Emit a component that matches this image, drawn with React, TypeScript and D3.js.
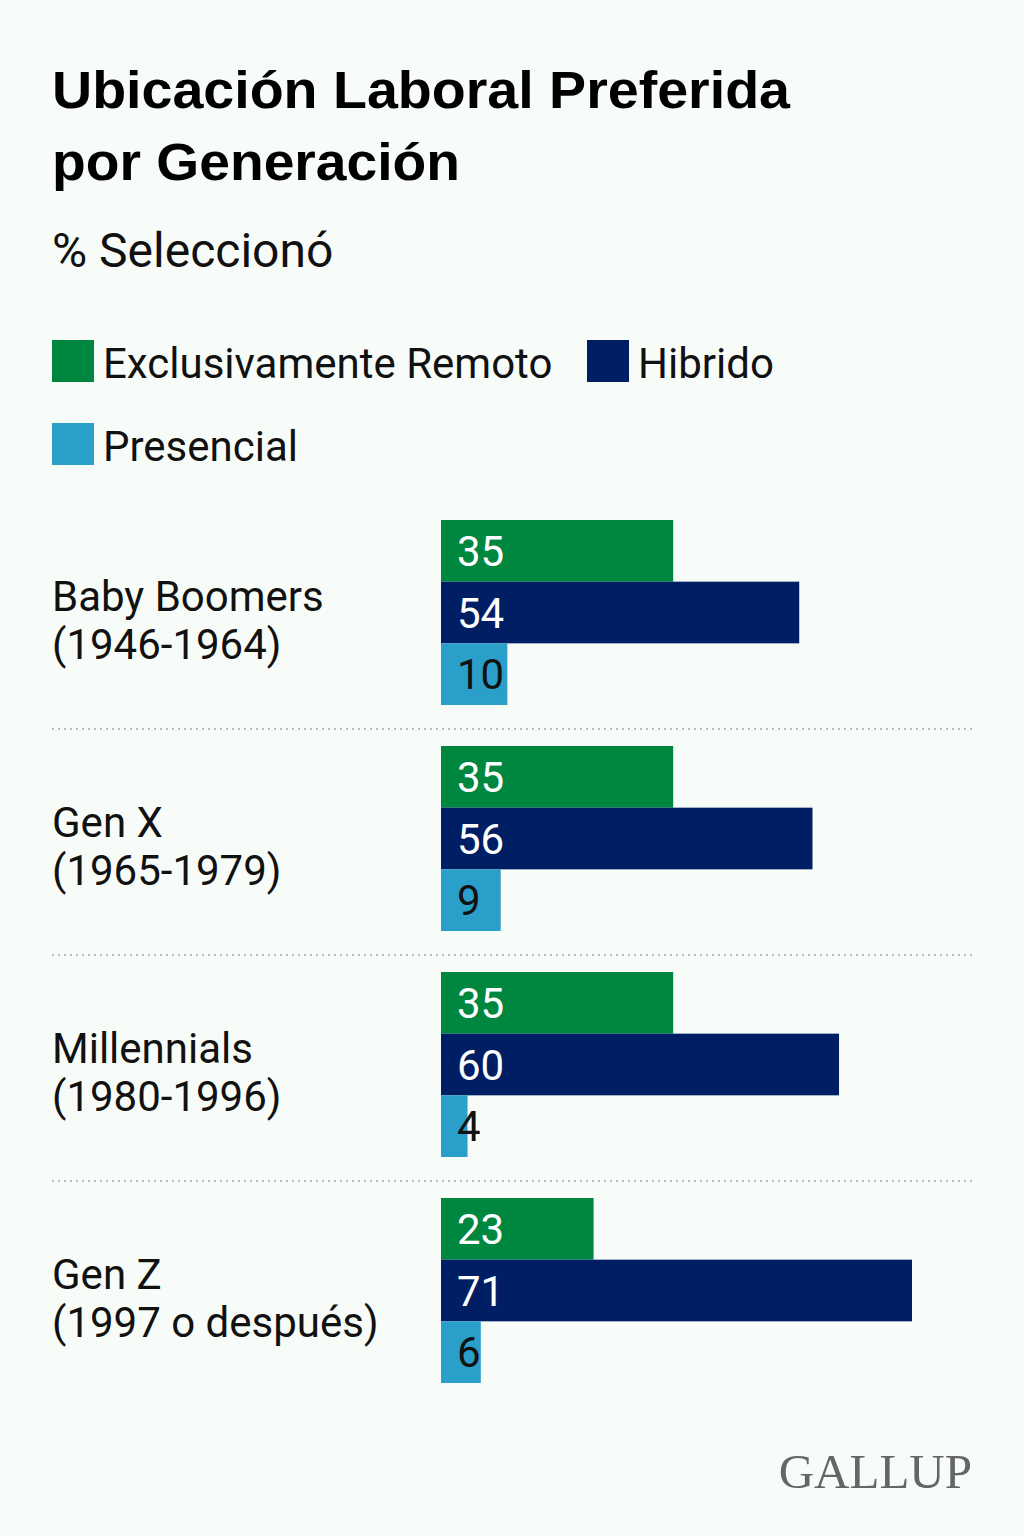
import React from "react";
import * as d3 from "d3";

// Generations and their birth-year ranges
const generations = ["Baby Boomers", "Gen X", "Millennials", "Gen Z"];
const birthYears = ["(1946-1964)", "(1965-1979)", "(1980-1996)", "(1997 o después)"];

// Series: share (%) choosing each work location
const seriesNames = ["Exclusivamente Remoto", "Hibrido", "Presencial"];
const remoto = [35, 35, 35, 23];
const hibrido = [54, 56, 60, 71];
const presencial = [10, 9, 4, 6];

const seriesColors = ["#00873f", "#001e64", "#2a9fca"];
const labelColors = ["#ffffff", "#ffffff", "#111111"];

const W = 1024;
const H = 1536;
const FONT = "Roboto, 'Liberation Sans', Arial, sans-serif";
const TITLE_FONT = "'Liberation Sans', Arial, sans-serif";

export default function App() {
  const series = [remoto, hibrido, presencial];
  const maxVal = d3.max(series.flat()) as number;

  const barLeft = 441;
  const barRight = 912;
  const x = d3.scaleLinear().domain([0, maxVal]).range([barLeft, barRight]);

  const groupTop = 520;
  const groupPitch = 226;
  const groupH = 185;

  const yGroup = d3
    .scaleBand<string>()
    .domain(generations)
    .range([groupTop, groupTop + groupPitch * generations.length])
    .paddingInner(0)
    .paddingOuter(0);

  const yBar = d3
    .scaleBand<string>()
    .domain(seriesNames)
    .range([0, groupH])
    .padding(0);

  const legend = [
    { name: seriesNames[0], color: seriesColors[0], x: 52, y: 340 },
    { name: seriesNames[1], color: seriesColors[1], x: 587, y: 340 },
    { name: seriesNames[2], color: seriesColors[2], x: 52, y: 423 },
  ];

  return (
    <svg
      width={W}
      height={H}
      viewBox={`0 0 ${W} ${H}`}
      style={{ position: "absolute", left: 0, top: 0, display: "block" }}
    >
      <rect x={0} y={0} width={W} height={H} fill="#f7fcf8" />

      {/* Title and subtitle */}
      <text
        x={52}
        y={108}
        fontFamily={TITLE_FONT}
        fontWeight={700}
        fontSize={51}
        fill="#000"
        textLength={738}
        lengthAdjust="spacingAndGlyphs"
      >
        Ubicación Laboral Preferida
      </text>
      <text
        x={52}
        y={180}
        fontFamily={TITLE_FONT}
        fontWeight={700}
        fontSize={51}
        fill="#000"
        textLength={408}
        lengthAdjust="spacingAndGlyphs"
      >
        por Generación
      </text>
      <text x={52} y={267} fontFamily={FONT} fontSize={48} fill="#111">
        % Seleccionó
      </text>

      {/* Legend */}
      {legend.map((l) => (
        <g key={l.name}>
          <rect x={l.x} y={l.y} width={42} height={42} fill={l.color} />
          <text x={l.x + 51} y={l.y + 38} fontFamily={FONT} fontSize={42} fill="#111">
            {l.name}
          </text>
        </g>
      ))}

      {/* Groups */}
      {generations.map((g, gi) => {
        const gy = yGroup(g) as number;
        const center = gy + groupH / 2;
        return (
          <g key={g}>
            <text x={52} y={center - 2} fontFamily={FONT} fontSize={42} fill="#111">
              {g}
            </text>
            <text x={52} y={center + 46} fontFamily={FONT} fontSize={42} fill="#111">
              {birthYears[gi]}
            </text>
            {series.map((vals, si) => {
              const by = gy + (yBar(seriesNames[si]) as number);
              const bh = yBar.bandwidth();
              return (
                <g key={si}>
                  <rect
                    x={x(0)}
                    y={by}
                    width={x(vals[gi]) - x(0)}
                    height={bh}
                    fill={seriesColors[si]}
                  />
                  <text
                    x={x(0) + 16}
                    y={by + bh / 2 + 15}
                    fontFamily={FONT}
                    fontSize={42}
                    fill={labelColors[si]}
                  >
                    {vals[gi]}
                  </text>
                </g>
              );
            })}
            {gi < generations.length - 1 && (
              <line
                x1={52}
                x2={973}
                y1={gy + groupPitch - 17}
                y2={gy + groupPitch - 17}
                stroke="#b8bcb9"
                strokeWidth={2}
                strokeDasharray="2 4"
              />
            )}
          </g>
        );
      })}

      {/* Source mark */}
      <text
        x={972}
        y={1488}
        textAnchor="end"
        fontFamily="'Liberation Serif', 'DejaVu Serif', serif"
        fontSize={49}
        fill="#666"
      >
        GALLUP
      </text>
    </svg>
  );
}
